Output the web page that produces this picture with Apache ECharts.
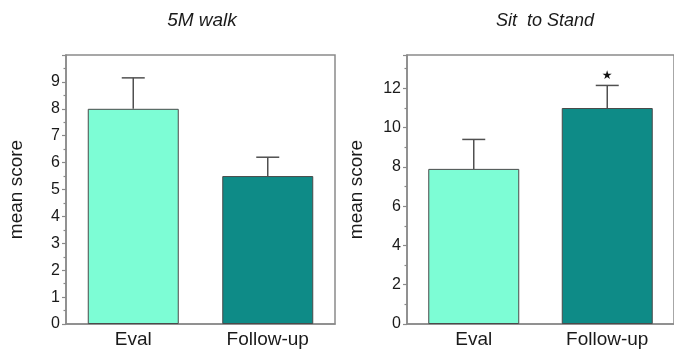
<!DOCTYPE html>
<html><head><meta charset="utf-8">
<script src="https://cdn.jsdelivr.net/npm/echarts@6/dist/echarts.min.js"></script>
<style>html,body{margin:0;padding:0;background:#fff}#c{width:674px;height:349px}</style>
</head><body><div id="c"></div>
<script>
// ---- data ----
const categories = ['Eval', 'Follow-up'];
const walkTitle = '5M walk';
const walkMean = [8.0, 5.5];
const walkErrTop = [9.15, 6.2];
const sitTitle = 'Sit  to Stand';
const sitMean = [7.9, 11.0];
const sitErrTop = [9.4, 12.15];
const sitSignif = ['', '★'];
const walkSignif = ['', ''];
const axisLabelName = 'mean score';

// ---- styling ----
const barColors = ['#7dfdd5', '#0e8b87'];
const axisColor = '#8a8a8a';
const textColor = '#1a1a1a';
const FONT = '"Liberation Sans", Arial, sans-serif';

const chart = echarts.init(document.getElementById('c'), null, {renderer: 'canvas'});

function yAxisCfg(gridIndex, max, interval, nameGap) {
  return {
    type: 'value', gridIndex, min: 0, max, interval,
    name: axisLabelName, nameLocation: 'middle', nameGap,
    nameTextStyle: {fontFamily: FONT, fontSize: 19, color: textColor},
    axisLine: {show: true, lineStyle: {color: axisColor, width: 1.5}},
    axisTick: {show: true, length: 4, lineStyle: {color: axisColor, width: 1.2}},
    minorTick: {show: true, splitNumber: 2, length: 2.5, lineStyle: {color: axisColor, width: 1.2}},
    splitLine: {show: false},
    axisLabel: {fontFamily: FONT, fontSize: 16, color: textColor, margin: 6, showMaxLabel: false}
  };
}
function xAxisCfg(gridIndex) {
  return {
    type: 'category', gridIndex, data: categories,
    axisLine: {show: true, lineStyle: {color: axisColor, width: 1.5}},
    axisTick: {show: false},
    axisLabel: {fontFamily: FONT, fontSize: 19, color: textColor, margin: 6}
  };
}
function barSeries(idx, means) {
  return {
    type: 'bar', xAxisIndex: idx, yAxisIndex: idx, barWidth: 91, z: 2,
    data: means.map((v, i) => ({value: v, itemStyle: {color: barColors[i]}})),
    itemStyle: {borderColor: '#4a4a4a', borderWidth: 1}
  };
}
function errSeries(idx, means, tops, marks) {
  return {
    type: 'custom', xAxisIndex: idx, yAxisIndex: idx, z: 5,
    data: categories.map((c, i) => [i, tops[i], means[i]]),
    renderItem: function (params, api) {
      const i = api.value(0);
      const top = api.coord([i, api.value(1)]);
      const base = api.coord([i, api.value(2)]);
      const st = {stroke: '#505050', lineWidth: 1.5};
      const children = [
        {type: 'line', shape: {x1: base[0], y1: base[1], x2: top[0], y2: top[1]}, style: st},
        {type: 'line', shape: {x1: top[0] - 11.5, y1: top[1], x2: top[0] + 11.5, y2: top[1]}, style: st}
      ];
      const m = marks[params.dataIndex];
      if (m) {
        children.push({type: 'text', x: top[0], y: top[1] - 10,
          style: {text: m, fontSize: 12, fill: '#111', align: 'center', verticalAlign: 'middle', fontFamily: '"DejaVu Sans", sans-serif'}});
      }
      return {type: 'group', children};
    }
  };
}

const option = {
  animation: false,
  backgroundColor: '#fff',
  graphic: [
    {type: 'text', x: 202, y: 21, style: {text: walkTitle, fontFamily: FONT, fontSize: 19, fontStyle: 'italic', fill: textColor, align: 'center', verticalAlign: 'middle'}},
    {type: 'text', x: 545, y: 21, style: {text: sitTitle, fontFamily: FONT, fontSize: 18, fontStyle: 'italic', fill: textColor, align: 'center', verticalAlign: 'middle'}}
  ],
  grid: [
    {left: 66, top: 55, width: 269, height: 271, show: true, borderColor: axisColor, borderWidth: 1.5, backgroundColor: 'transparent'},
    {left: 407, top: 55, width: 272, height: 271, show: true, borderColor: axisColor, borderWidth: 1.5, backgroundColor: 'transparent'}
  ],
  xAxis: [xAxisCfg(0), xAxisCfg(1)],
  yAxis: [yAxisCfg(0, 10, 1, 40), yAxisCfg(1, 13.7, 2, 41)],
  series: [
    barSeries(0, walkMean), errSeries(0, walkMean, walkErrTop, walkSignif),
    barSeries(1, sitMean), errSeries(1, sitMean, sitErrTop, sitSignif)
  ]
};
chart.setOption(option);
</script>
</body></html>
